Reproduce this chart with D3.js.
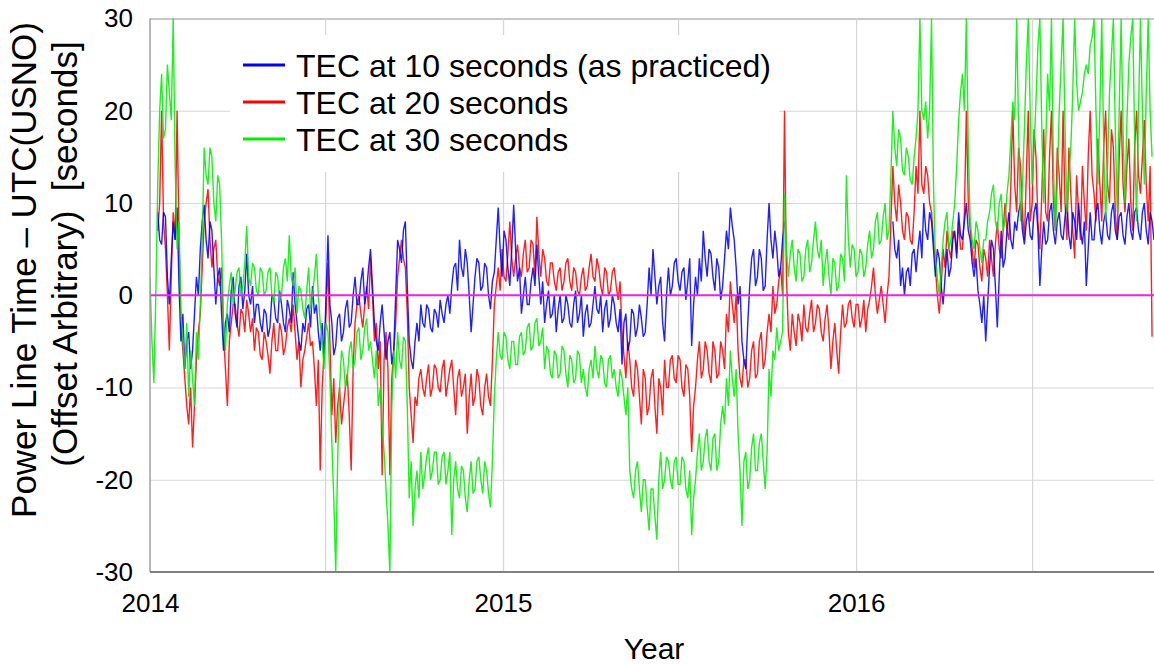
<!DOCTYPE html>
<html>
<head>
<meta charset="utf-8">
<script src="https://cdn.jsdelivr.net/npm/d3@7"></script>
<style>
  html, body { margin: 0; padding: 0; background: #fff; }
  svg { display: block; }
  text { font-family: "Liberation Sans", Arial, sans-serif; fill: #000; }
</style>
</head>
<body>
<svg id="chart" width="1154" height="664"></svg>
<script>
// ---------------- data ----------------
const startDate = "2014-01-01";
const stepDays = 4;            // main samples every 4 days; mid samples 2 days later
const endDate = "2016-11-04";  // right edge of the plot
const yearTicks = ["2014-01-01", "2015-01-01", "2016-01-01"];
const halfYearGrid = ["2014-07-01", "2015-01-01", "2015-07-01", "2016-01-01", "2016-07-01"];
const yTicks = [-30, -20, -10, 0, 10, 20, 30];
const seriesNames = ["TEC at 10 seconds (as practiced)", "TEC at 20 seconds", "TEC at 30 seconds"];

// TEC at 10 s — samples at day 0,4,8,...
const tec10 = [
  null, null, 9, 5.5, 8.5, -1, 8, 9.5, -5, -8,
  -4, -6, 2, 5, 9.8, 4, 7, -1, 3, -6,
  -2, 0.5, -2, 1, -1.5, 4.5, -1, -3, -1, -4,
  -2, -3.5, -0.5, -3, -1, -4, -1.5, 2.5, -3, -6,
  -4, -1, 1, -1, -6, -7, 6.5, -3, -5.5, -2,
  -4, -0.5, -3, 2, -1, 3, 0.5, 5, -3, -6,
  -1, -7, -4, -6, 6, 3.5, 8, -5, -8, -3,
  -1, -3.5, -1.5, -4, -2, -0.5, -3, 0, 1, 3.5,
  6, 2, 3.5, -4, 2, 3.5, 1, 3, -1.5, 2.5,
  9.5, 2, 6, 1, 9.8, 1.5, -2, 2, -1, 3,
  5.5, -1, -3, 0.5, -2, -4, 0, -2.5, -1, -3.5,
  0.5, -2, -4.5, -1, -3, 1, -2, -4, -0.5, -2.5,
  -1, -4, -7.5, -2, -5, -2, -3.5, -2.5, -4, 3,
  5, -1, 2, -5, 3, 1, 4, 0.5, 3, 1.5,
  -5.5, 2, 4, 7, 2, 4.5, 0.5, 3, 1, 7,
  9.5, 6, -1, -5, -8, 1, 5, 2, 4, 1,
  10, 4, 5, 3, 8, null, null, null, null, null,
  null, null, null, null, null, null, null, null, null, null,
  null, null, null, null, null, null, null, null, null, null,
  null, null, 8, 4, 1, 0, 3, 4.5, 2.5, 7,
  10, 6, 8, 2, 4, -1, 5, 3, 7, 9,
  6, 10, 6, 2, 0.5, -3, -5, 3, 5, -3.5,
  7, 4, 9, 5, 7, 10, 5.5, 9, 6, 10,
  1, 8, 6, 10, 5.5, 9, 6, 10, 5, 8,
  10, 5.5, 1, 9, 6, 10, 5.5, 9, 6, 10,
  6, 9, 5.5, 10, 6, 9.5, 6, 10, 5.5, 8
];
// TEC at 10 s — samples at day 2,6,10,...
const tec10mid = [
  null, null, 6, 9, 2, 4, 6, 1, -2, -5,
  -8, -2, 0, 8, 6, 8, 3, 2, -2, -3,
  -4, 2, -3.5, 2, 0.5, 0, 1, -1, -3, -1.5,
  -4.5, 0, -2.5, 0.5, -3, -0.5, -3, -1, -5, -3,
  -1.5, -3.5, -2, -4, -3, 0, -1, -6.5, -2.5, -5,
  -1.5, -3.5, 0, -1, 1.5, -1, 3, 1, -5, -3,
  -4, -5, -7.5, 0, 5, 7, 1, -7, -5, -5,
  -3, -1, -3.5, -1.5, -3.5, -2, -1, -2, 3, 0.5,
  3, 5, 0, -1, 4, 0.5, 3.5, 0, 1.5, 6,
  5, 7, 3, 5, 5, 3, 0, -1, 1.5, 1,
  2, 1.5, -1, -2.5, 0, -1.5, -3, 0, -3, -1,
  -3, 0, -2, -3.5, -1, -1.5, 0, -1.5, -3.5, 0,
  -3, -1.5, -3, -6, -1.5, -4.5, -1, -4.5, -1, 0,
  2, 1, -3, 0, 0, 3.5, 1.5, 2.5, -0.5, 4,
  -1, 0, 1.5, 4, 5, 2, 4, -0.5, 4, 5,
  7.5, 3, 1, -7, -3, 4, 1, 5, 0.5, 6,
  6, 7, 2, 6, null, null, null, null, null, null,
  null, null, null, null, null, null, null, null, null, null,
  null, null, null, null, null, null, null, null, null, null,
  null, null, 5, 6, 3, 2.5, 1, 5, 5, 4,
  7, 9, 5, 5, 1, 2, 2, 6, 4, 6.5,
  8, 7, 3.5, 4, -1, 0, -1, 6, 1, 2,
  3, 7, 6, 8, 9, 7, 8, 6.5, 9, 7,
  5, 5.5, 9, 7, 8, 6.5, 8.5, 6.5, 9, 6,
  7, 8, 5, 6, 9, 7, 8, 6.5, 9, 7,
  8.5, 6.5, 8.5, 7, 9, 7, 9, 7, 9, 6
];

// TEC at 20 s — samples at day 0,4,8,...
const tec20 = [
  null, null, 7, 20, 5, -6, 9, 20, -3, -9,
  -14, -16.5, -7, -2, 8, 11.5, 3, 6, 1, -4,
  -12, -3, -1, -4.5, -2, -0.5, -4, -6, -4, -7,
  -5, -8.5, -3, -6, -4, -5.5, -2.5, -1, -7, -10,
  -6, -3, -5, -12, -19, -6, 3.5, -13, -16, -10,
  -12, -8.5, -19, -3, 0, -3.5, 1, 4, -5, -8,
  -19.5, -4, -19.5, -6, 2, 6, 3, -10, -16, -12,
  -8, -11, -7.5, -10, -8, -10.5, -7, -9.5, -7, -13,
  -8, -10, -15, -8.5, -11, -9, -13, -8.5, -12, -1,
  3, 5, 1.5, 8, 2, 5.5, 2, 6, 3, 5.5,
  8.5, 2, 4, 1, 3.5, 0.5, 3, 1.5, 4, 0.5,
  2.5, 0, 3, 1, 4.5, 1.5, 3, 0, 2.5, 0.5,
  3, -0.5, -4, -9, -7, -11, -8, -14, -9, -12,
  -8, -15, -10, -7, -10, -6.5, -9.5, -7, -11, -8,
  -17, -10, -5, -8, -6, -9.5, -6, -8.5, -6, -2,
  1.5, -3, -6, -10, -7, -9, -5, -8.5, -4, -7,
  -2, 1, -1, 3, 20, -4, -2, -5.5, -3, -1,
  -4, -0.5, -3, -1.5, -5, -1, -8, -3, -8.5, -1,
  -3, -0.5, -3.5, -1, -2.5, -4, -0.5, 3, -2, 1,
  -3, 2, 14, 8, 10, 6, 8.5, 5.5, 14, 20,
  11, 13, 9, 3, -2, 5, 7, 4, 6.5, 8,
  5, 20, 7, 3, 5.5, 1.5, 4, 6, 2, 8,
  4, 10, 6, 20, 9, 14, 6, 20, 10, 15,
  5, 18, 8, 20, 7, 13, 20, 6, 11, 4,
  9, 14, 7, 20, 11, 17, 8, 20, 10, 16,
  6, 20, 9, 17, 7, 20, 11, 19, 8, -4.5
];
// TEC at 20 s — samples at day 2,6,10,...
const tec20mid = [
  null, null, 10, 8, 0, 2, 6, 6, -6, -12,
  -10, -12, -4, 3, 10, 6, 5, 2, 3, -8,
  -5, -1, -3, -1.5, -4, -2, -2.5, -3.5, -6.5, -4,
  -6.5, -5, -6, -3, -6.5, -3.5, -4, -4, -5, -7,
  -4.5, -5.5, -8, -7, -10, -2, -5, -9, -12, -14,
  -10, -13, -8, -1, -2, -1, -1.5, 0, -3, -5,
  -7, -8, -9, -3, 4, 4, -2, -13, -11, -9,
  -10, -9, -11, -7.5, -10, -8, -11, -8, -10, -9,
  -11, -8.5, -11, -12, -8, -12, -10, -11, -7, 1,
  0.5, 2, 4.5, 4, 4, 3, 4.5, 2.5, 6, 2,
  4.5, 5, 1.5, 3.5, 1.5, 2.5, 0.5, 3.5, 1.5, 3,
  0.5, 2, 0.5, 3, 2, 4, 1, 3, 0, 2.5,
  1, 1.5, -6.5, -5, -10, -7, -11, -8, -13, -9,
  -12, -9, -13, -10, -7, -9, -6.5, -10, -7.5, -11,
  -12, -7, -9, -5, -8.5, -5, -9, -5, -8, -4,
  -1, 0, -9, -7, -10, -6, -9, -5, -8, -4,
  -4, -2, 1.5, 0, 2, -6, -4, -2, -5, -3.5,
  -2, -4, -1, -4, -2.5, -4, -5, -6, -4, -3.5,
  -1, -2.5, -1, -3.5, -0.5, -1.5, 1, 0, -0.5, -1,
  0, 8, 10, 12, 7, 9, 6, 9, 11, 12,
  14, 10, 6, 0, 1, 3, 5, 7, 4.5, 5,
  9, 10, 5, 6, 3, 5, 2, 4, 5.5, 5,
  7, 7, 12, 12, 16, 9, 13, 8, 18, 8,
  11, 9, 15, 10, 16, 9, 10, 16, 7, 13,
  6, 10, 15, 13, 8, 12, 16, 12, 18, 9,
  15, 12, 14, 10, 16, 13, 15, 12, 14, null
];

// TEC at 30 s — samples at day 0,4,8,...
const tec30 = [
  2, -9.5, 12, 24, 18, 22, 30, 5, -2, -8,
  -11, -9, -4, -1, 16, 12, 15, 8, 12, -3,
  -1, 2.5, 0.5, 3, 1, 7.5, 1, 3, 0, 2.5,
  0.5, 3, -1, 2, 0, 4, 6.5, 1, -2, 0.5,
  -2.5, 3, 0, 4.5, -3, -8, -4, -16, -30, -10,
  -7, -9, -5, -7, -3.5, -6, -2.5, -5, -9, -12,
  -14, -21, -30, -6, -4, -8, -5, -22, -25, -19,
  -17, -19.5, -16.5, -19, -17, -20, -17, -19, -26, -18,
  -22, -19, -23.5, -18, -21, -17.5, -21.5, -19, -23, -11,
  -4, -7, -4.5, -8, -5, -7.5, -4, -6, -3, -5.5,
  -2.5, -5, -8, -6, -9, -6.5, -8.5, -6, -10, -7,
  -9, -6.5, -8, -11, -7, -5.5, -9, -7, -10, -6.5,
  -8, -11, -9, -13, -19, -22, -18, -23.5, -20, -25.5,
  -21, -26.5, -17, -20, -18, -21, -17.5, -20.5, -18, -22,
  -26, -20, -15, -18, -14.5, -19, -15, -18, -12, -9,
  -6, -11, -15, -25, -17, -20, -15, -19, -15, -21,
  -8, -6, -3.5, -5, 11, 2, 6, 1.5, 4.5, 2,
  6, 3.5, 8, 4, 1, 5, 0, 3.5, 1, 4,
  13, 3, 5, 2.5, 4.5, 3, 7, 5, 9, 6,
  10, 7, 20, 14, 17, 13, 15, 12, 17, 30,
  19, 17, 30, 4, 0, 6, 9, 6, 10, 19,
  24, 30, 8, 5, 7, 3.5, 6, 9, 12, 7,
  11, 8, 13, 21, 30, 8, 18, 30, 12, 21,
  30, 10, 24, 30, 7, 20, 30, 9, 16, 30,
  20, 22, 25, 27, 30, 12, 30, 8, 22, 30,
  9, 30, 10, 25, 30, 8, 30, 12, 30, 15
];
// TEC at 30 s — samples at day 2,6,10,...
const tec30mid = [
  -5, 0, 20, 17, 25, 19, 14, 8, -5, -3,
  -6, -12, -7, 6, 13, 16, 10, 13, 6, -6,
  1, -1, 2.5, 0, 3.5, 2, 3.5, 0.5, 3, 0,
  2.5, 0, 2.5, -0.5, 3, 1.5, 2, 3, 1, -1.5,
  0.5, -1.5, 2, 0, -5, -3, -9, -22, -18, -6,
  -10, -6, -8, -4, -7, -3.5, -6, -7, -6, -10,
  -17, -25, -12, -9, -7, -4.5, -12, -18, -21, -22,
  -21, -17.5, -20, -17, -20.5, -17.5, -20.5, -17, -20, -21,
  -18.5, -22, -20, -21.5, -18, -20, -18, -21.5, -18, -7,
  -6.5, -4, -7, -5, -7.5, -4.5, -6.5, -3.5, -6, -3,
  -5.5, -3.5, -5.5, -8.5, -6, -9, -5.5, -8.5, -6.5, -9.5,
  -6, -9.5, -10, -8, -9, -8, -6.5, -9.5, -7, -9,
  -10, -8, -11, -10, -21, -19, -21, -20, -23, -21,
  -24, -20, -21, -17.5, -20, -18, -20.5, -17.5, -21, -19,
  -22, -17, -19, -15.5, -18, -15.5, -19, -14, -14, -12,
  -9, -8, -19, -18, -21, -16.5, -19, -16, -18, -17,
  -11, -7, -6, -4, 5, 4.5, 3, 5, 1.5, 5,
  2.5, 6, 5, 6, 3.5, 2, 4, 0.5, 4.5, 1.5,
  6, 5.5, 2, 5, 2, 5.5, 4, 8, 5.5, 8.5,
  6, 13, 16, 18, 13.5, 16, 12.5, 15, 20, 20,
  21, 20, 12, 2, 3, 8, 5, 8, 14, 22,
  20, 16, 6, 8, 5, 6, 8, 11, 8, 10,
  7, 11, 17, 19, 18, 12, 25, 20, 16, 27,
  18, 16, 20, 14, 12, 25, 18, 13, 22, 23,
  21, 24, 24, 28, 20, 20, 16, 14, 26, 18,
  20, 18, 19, 28, 17, 20, 20, 22, 20, null
];

// ---------------- drawing ----------------
(function () {
const parse = d3.utcParse("%Y-%m-%d");
const t0 = parse(startDate);
const dateAt = (i, half) => d3.utcDay.offset(t0, i * stepDays + (half ? stepDays / 2 : 0));

const pL = 150, pR = 1154, pT = 18.5, pB = 572;

const svg = d3.select("#chart");
const x = d3.scaleUtc().domain([t0, parse(endDate)]).range([pL, pR]);
const y = d3.scaleLinear().domain([-30, 30]).range([pB, pT]);

svg.append("defs").append("clipPath").attr("id", "plotclip")
  .append("rect").attr("x", pL).attr("y", pT - 1).attr("width", pR - pL).attr("height", pB - pT + 1);

// horizontal gridlines
svg.append("g")
  .attr("transform", `translate(${pL},0)`)
  .call(d3.axisLeft(y).tickValues(yTicks.filter(v => v !== 0 && v !== -30)).tickSize(-(pR - pL)).tickFormat(""))
  .call(g => g.select(".domain").remove())
  .call(g => g.selectAll("line").attr("stroke", d => d === 30 ? "#b4b4b4" : "#d6d6d6").attr("stroke-width", d => d === 30 ? 1.5 : 1));

// vertical gridlines
svg.append("g")
  .attr("transform", `translate(0,${pB})`)
  .call(d3.axisBottom(x).tickValues(halfYearGrid.map(parse)).tickSize(-(pB - pT)).tickFormat(""))
  .call(g => g.select(".domain").remove())
  .call(g => g.selectAll("line").attr("stroke", "#d6d6d6").attr("stroke-width", 1.2));

// series
const colors = ["#0000ff", "#ff0000", "#00ee00"];
const series = [[tec10, tec10mid], [tec20, tec20mid], [tec30, tec30mid]];
const line = d3.line()
  .defined(d => d[1] !== null)
  .x(d => x(d[0]))
  .y(d => y(d[1]));

const plot = svg.append("g").attr("clip-path", "url(#plotclip)");
[1, 0, 2].forEach(k => {
  const [main, mid] = series[k];
  const pts = [];
  main.forEach((v, i) => {
    pts.push([dateAt(i, false), v]);
    if (i < mid.length) pts.push([dateAt(i, true), mid[i]]);
  });
  plot.append("path")
    .datum(pts)
    .attr("fill", "none")
    .attr("stroke", colors[k])
    .attr("stroke-width", 1.4)
    .attr("stroke-opacity", 0.88)
    .attr("d", line);
});

// zero line
svg.append("line")
  .attr("x1", pL).attr("x2", pR)
  .attr("y1", y(0)).attr("y2", y(0))
  .attr("stroke", "#ee22ee").attr("stroke-width", 2);

// axis lines
svg.append("line").attr("x1", pL).attr("x2", pL).attr("y1", pT).attr("y2", pB)
  .attr("stroke", "#a0a0a0").attr("stroke-width", 1.5);
svg.append("line").attr("x1", pL).attr("x2", pR).attr("y1", pB).attr("y2", pB)
  .attr("stroke", "#808080").attr("stroke-width", 2);

// y tick labels
svg.append("g")
  .attr("transform", `translate(${pL},0)`)
  .call(d3.axisLeft(y).tickValues(yTicks).tickSize(0).tickPadding(17).tickFormat(d => String(d)))
  .call(g => g.select(".domain").remove())
  .call(g => g.selectAll("text").attr("font-size", 26).attr("font-family", "'Liberation Sans', Arial, sans-serif").attr("fill", "#000"));

// x tick labels
svg.append("g")
  .attr("transform", `translate(0,${pB})`)
  .call(d3.axisBottom(x).tickValues(yearTicks.map(parse)).tickSize(0).tickPadding(22).tickFormat(d3.utcFormat("%Y")))
  .call(g => g.select(".domain").remove())
  .call(g => g.selectAll("text").attr("font-size", 26).attr("font-family", "'Liberation Sans', Arial, sans-serif").attr("fill", "#000"));

// axis titles
svg.append("text")
  .attr("x", 654).attr("y", 659)
  .attr("text-anchor", "middle")
  .attr("font-size", 30)
  .text("Year");

svg.append("text")
  .attr("transform", "translate(36,270) rotate(-90)")
  .attr("text-anchor", "middle")
  .attr("font-size", 35)
  .text("Power Line Time \u2013 UTC(USNO)");
svg.append("text")
  .attr("transform", "translate(77,254) rotate(-90)")
  .attr("text-anchor", "middle")
  .attr("font-size", 35)
  .style("white-space", "pre")
  .text("(Offset Arbitrary)  [seconds]");

// legend
const lg = svg.append("g");
lg.append("rect").attr("x", 230).attr("y", 35).attr("width", 549).attr("height", 137).attr("fill", "#fff");
const legendY = [65, 102, 139];
seriesNames.forEach((name, k) => {
  lg.append("line")
    .attr("x1", 243).attr("x2", 285)
    .attr("y1", legendY[k]).attr("y2", legendY[k])
    .attr("stroke", colors[k]).attr("stroke-width", 3);
  lg.append("text")
    .attr("x", 296).attr("y", legendY[k])
    .attr("dy", "0.36em")
    .attr("font-size", 32)
    .text(name);
});
})();
</script>
</body>
</html>
